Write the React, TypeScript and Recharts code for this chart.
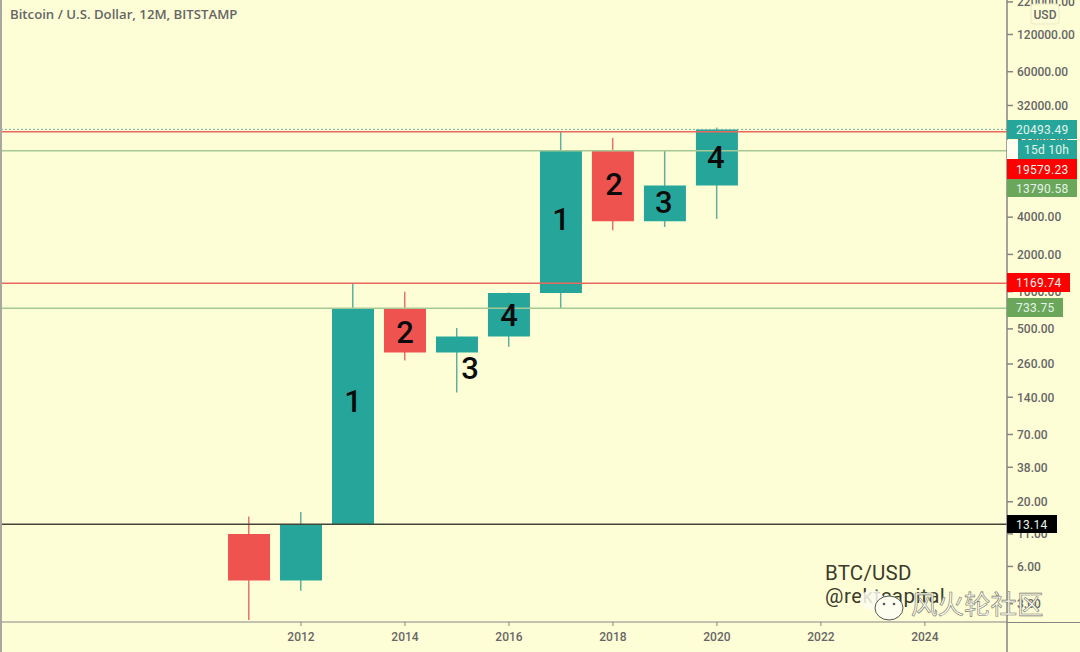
import { Bar, Cell, ComposedChart, ReferenceDot, ReferenceLine, XAxis, YAxis } from "recharts";

const UP = "#26a69a";
const DOWN = "#ef5350";
const BG = "#fefed6";
const AXIS = "#858585";
const TICK_TEXT = "#666";
const FONT = "Roboto, sans-serif";

const years = [2011, 2012, 2013, 2014, 2015, 2016, 2017, 2018, 2019, 2020];
const opens = [11.0, 4.61, 13.14, 733.75, 322.6, 434.6, 975, 13790.58, 3702, 7198];
const closes = [4.61, 13.14, 733.75, 322.6, 434.6, 975, 13790.58, 3702, 7198, 20493.49];
const highs = [15.17, 16.56, 1169.74, 998, 508, 985, 19579.23, 17510, 13790.58, 21200];
const lows = [2.21, 3.82, 13.14, 277.8, 152.9, 358, 733.75, 3129, 3333, 3871];

const candles = years.map((year, i) => ({
  year,
  body: [Math.min(opens[i], closes[i]), Math.max(opens[i], closes[i])],
  wick: [lows[i], highs[i]],
  up: closes[i] >= opens[i],
}));

const yearTicks = [2012, 2014, 2016, 2018, 2020, 2022, 2024];
const priceTicks = [
  220000, 120000, 60000, 32000, 16000, 8000, 4000, 2000, 1000, 500, 260, 140, 70, 38, 20, 11, 6, 3,
];

const waveDigits = ["1", "2", "3", "4", "1", "2", "3", "4"];
const waveYears = [2013, 2014, 2015.25, 2016, 2017, 2018.02, 2018.98, 2019.98];
const wavePrices = [131, 475, 242, 650, 3893, 7471, 5340, 12350];

const levels = [
  { value: 19579.23, stroke: "#e8685f", width: 1.5 },
  { value: 20493.49, stroke: "#6fb5a5", width: 1, dash: "2 2" },
  { value: 13790.58, stroke: "#a5c995", width: 1.5 },
  { value: 1169.74, stroke: "#e8685f", width: 1.5 },
  { value: 733.75, stroke: "#a5c995", width: 1.5 },
  { value: 13.14, stroke: "#44453a", width: 1.5 },
];

const badges = [
  { text: "20493.49", left: 1007, top: 120, width: 70, height: 19, bg: "#26a69a" },
  { text: "15d 10h", left: 1018, top: 140, width: 59, height: 19, bg: "#26a69a" },
  { text: "19579.23", left: 1007, top: 159, width: 70, height: 20, bg: "#ff0000" },
  { text: "13790.58", left: 1007, top: 179, width: 70, height: 18, bg: "#6aa75b" },
  { text: "1169.74", left: 1007, top: 273, width: 63, height: 19, bg: "#ff0000" },
  { text: "733.75", left: 1007, top: 298, width: 56, height: 19, bg: "#6aa75b" },
  { text: "13.14", left: 1007, top: 515, width: 50, height: 18, bg: "#000" },
];

function Overlay() {
  return (
    <svg width={1080} height={652} style={{ position: "absolute", left: 0, top: 0, pointerEvents: "none" }}>
      <rect x={0} y={0} width={2} height={652} fill="#a8a8a0" />
      <line x1={1007} x2={1080} y1={622.5} y2={622.5} stroke={AXIS} strokeWidth={1} />
      <line x1={1007} x2={1007} y1={622} y2={652} stroke={AXIS} strokeWidth={1.5} />
      <text x={10} y={19} fontFamily="'Open Sans', sans-serif" fontWeight={600} fontSize={13.2} fill="#666">
        Bitcoin / U.S. Dollar, 12M, BITSTAMP
      </text>
      <rect x={1031} y={4} width={28} height={20} rx={3} fill={BG} stroke="#e8e8c8" />
      <text x={1045} y={19} textAnchor="middle" fontFamily={FONT} fontWeight={500} fontSize={12} fill={TICK_TEXT}>
        USD
      </text>
      <rect x={1007} y={140} width={11} height={19} fill="#fdfdf0" />
      {badges.map((b) => (
        <g key={b.text}>
          <rect x={b.left} y={b.top} width={b.width} height={b.height} fill={b.bg} />
          <text
            x={b.left + (b.text === "15d 10h" ? 6 : 9)}
            y={b.top + b.height / 2 + 4.5}
            fontFamily={FONT}
            fontSize={12}
            letterSpacing={0.25}
            fill="#e4f4ea"
          >
            {b.text}
          </text>
        </g>
      ))}
      <text x={825} y={580} fontFamily={FONT} fontSize={20.5} letterSpacing={0.2} fill="#3a3a2c">
        BTC/USD
      </text>
      <text x={825} y={603} fontFamily={FONT} fontSize={20.5} letterSpacing={0.5} fill="#3a3a2c">
        @rektcapital
      </text>
      <ellipse cx={872} cy={600} rx={12} ry={10} fill="#fdfdf0" opacity={0.85} />
      <ellipse cx={889} cy={608} rx={14} ry={12} fill="#fdfdf0" stroke="#555" strokeWidth={1} />
      <circle cx={884} cy={604} r={1.3} fill="#555" />
      <circle cx={894} cy={604} r={1.3} fill="#555" />
      <text
        x={911}
        y={614}
        fontFamily="'Noto Sans CJK SC', sans-serif"
        fontSize={26.5}
        fill="#fdfdf0"
        stroke="#77776a"
        strokeWidth={0.6}
      >
        风火轮社区
      </text>
    </svg>
  );
}

export default function App() {
  return (
    <div style={{ position: "absolute", left: 0, top: 0, width: 1080, height: 652, background: BG, overflow: "hidden" }}>
      <ComposedChart width={1080} height={652} data={candles} margin={{ top: 0, right: 0, bottom: 0, left: 0 }}>
        <XAxis
          xAxisId="main"
          dataKey="year"
          type="number"
          domain={[2006.21, 2025.58]}
          ticks={yearTicks}
          interval={0}
          allowDataOverflow
          height={30}
          stroke={AXIS}
          tickSize={4}
          tickMargin={6}
          tick={{ fill: TICK_TEXT, fontFamily: FONT, fontWeight: 500, fontSize: 12 }}
        />
        <XAxis xAxisId="wick" dataKey="year" type="number" domain={[2006.21, 2025.58]} allowDataOverflow hide height={0} />
        <YAxis
          orientation="right"
          scale="log"
          domain={[2.133, 228000]}
          allowDataOverflow
          ticks={priceTicks}
          interval={0}
          width={73}
          stroke={AXIS}
          strokeWidth={1.5}
          tickSize={6}
          tickMargin={4}
          tickFormatter={(v: number) => v.toFixed(2)}
          tick={{ fill: TICK_TEXT, fontFamily: FONT, fontWeight: 500, fontSize: 12 }}
        />
        {levels.map((l) => (
          <ReferenceLine
            key={l.value}
            xAxisId="main"
            y={l.value}
            stroke={l.stroke}
            strokeWidth={l.width}
            strokeDasharray={l.dash}
          />
        ))}
        <Bar xAxisId="wick" dataKey="wick" barSize={1.5} isAnimationActive={false}>
          {candles.map((c) => (
            <Cell key={c.year} fill={c.up ? "#63ae9e" : "#e57368"} />
          ))}
        </Bar>
        <Bar xAxisId="main" dataKey="body" barSize={42} isAnimationActive={false}>
          {candles.map((c) => (
            <Cell key={c.year} fill={c.up ? UP : DOWN} />
          ))}
        </Bar>
        {waveDigits.map((d, i) => (
          <ReferenceDot
            key={i}
            xAxisId="main"
            x={waveYears[i]}
            y={wavePrices[i]}
            r={0}
            label={{ value: d, position: "center", fill: "#0b0b0b", fontFamily: FONT, fontWeight: 500, fontSize: 31 }}
          />
        ))}
      </ComposedChart>
      <Overlay />
    </div>
  );
}
